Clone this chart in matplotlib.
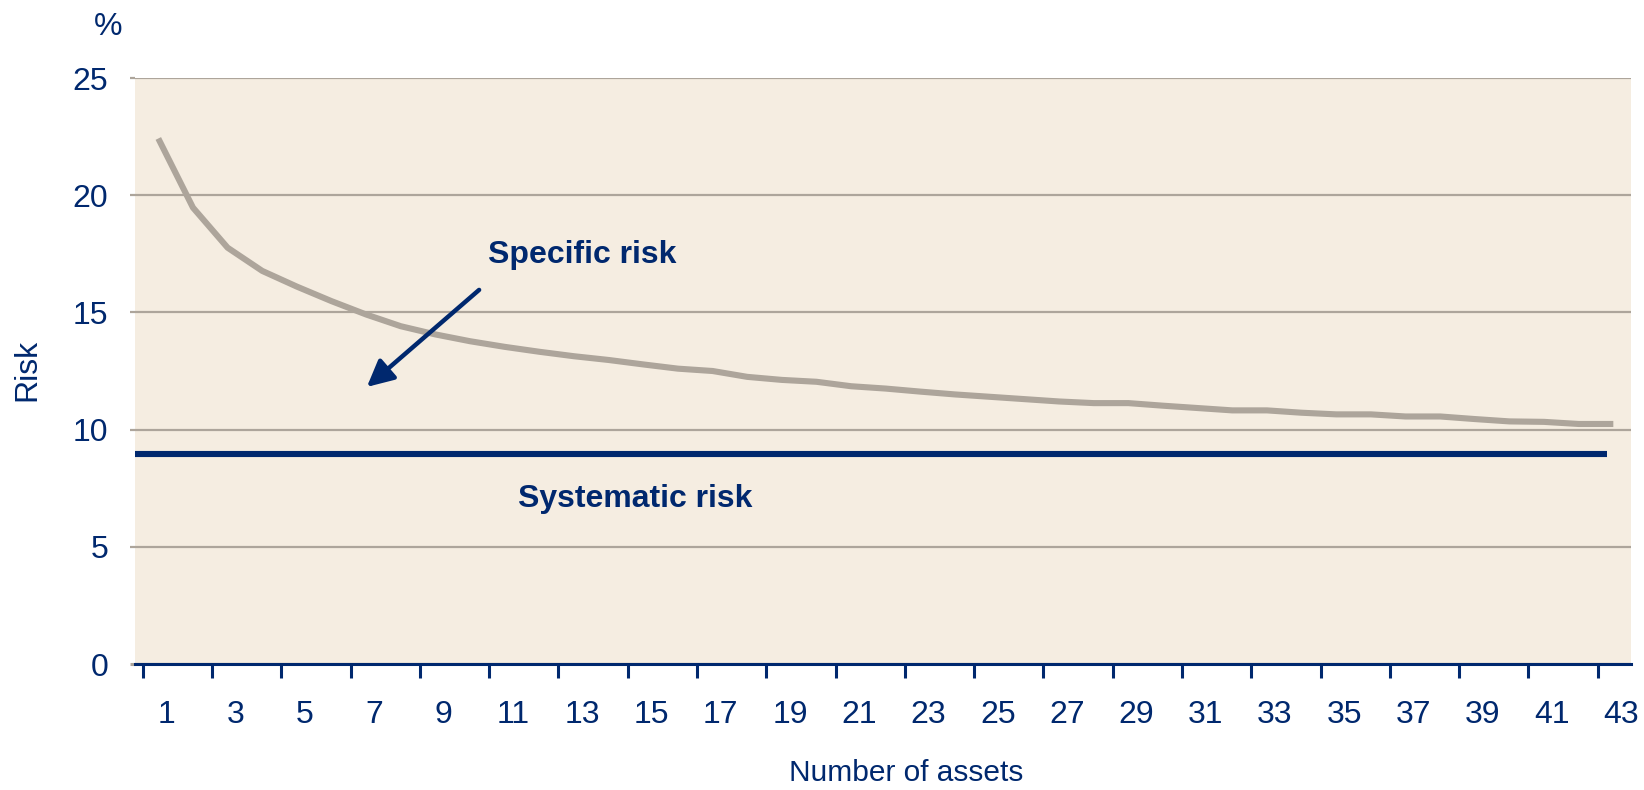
import matplotlib
matplotlib.use("Agg")
import matplotlib.pyplot as plt
import matplotlib.transforms as mtransforms

# risk of a portfolio as assets are added
n_assets = list(range(1, 44))
total_risk = [22.42, 19.47, 17.76, 16.77, 16.1, 15.48, 14.91, 14.41, 14.06, 13.77,
              13.53, 13.32, 13.13, 12.97, 12.78, 12.6, 12.5, 12.25, 12.12, 12.04,
              11.85, 11.75, 11.62, 11.5, 11.4, 11.3, 11.2, 11.13, 11.13, 11.02,
              10.92, 10.82, 10.82, 10.72, 10.65, 10.65, 10.56, 10.56, 10.45, 10.35,
              10.33, 10.24, 10.24]
systematic_risk = 8.96
y_ticks = [0, 5, 10, 15, 20, 25]

navy = "#00286E"
beige = "#F5EDE1"
grey = "#ADA59B"

plt.rcParams["font.family"] = ["Liberation Sans", "DejaVu Sans"]

fig = plt.figure(figsize=(16.44, 7.90), dpi=100)
ax = fig.add_axes([135 / 1644, 1 - 664 / 790, 1496 / 1644, 586 / 790])
ax.set_facecolor(beige)

ax.plot(n_assets, total_risk, color=grey, lw=4.4, solid_capstyle="butt", zorder=3)
ax.hlines(systematic_risk, 0.2, 42.83, color=navy, lw=4.4, zorder=3)

ax.set_xlim(0.327, 43.51)
ax.set_ylim(0, 25)

# y axis
ax.set_yticks(y_ticks)
ax.yaxis.grid(True, color=grey, lw=1.6)
ax.set_axisbelow(True)
ax.tick_params(axis="y", length=3.6, width=1.6, color=grey, pad=15.5,
               labelsize=23, labelcolor=navy)
ax.yaxis.get_major_ticks()[0].tick1line.set_color(navy)
ax.yaxis.get_major_ticks()[0].tick1line.set_markeredgewidth(2.2)

# x axis: labels on odd counts, tick marks just left of them
ax.set_xticks(n_assets[::2])
ax.set_xticks([n - 0.45 for n in n_assets[::2]], minor=True)
ax.tick_params(axis="x", which="major", length=0, pad=26, labelsize=23, labelcolor=navy)
ax.tick_params(axis="x", which="minor", length=10, width=2.2, color=navy)
shift = mtransforms.ScaledTranslation(0.08, 0, fig.dpi_scale_trans)
for lab in ax.get_xticklabels():
    lab.set_transform(lab.get_transform() + shift)

for s in ["top", "right", "left"]:
    ax.spines[s].set_visible(False)
ax.spines["bottom"].set_color(navy)
ax.spines["bottom"].set_linewidth(2.2)

ax.text(10.52, 17.45, "Specific risk", color=navy, fontsize=23, fontweight="bold",
        ha="left", va="center")
ax.text(11.38, 7.04, "Systematic risk", color=navy, fontsize=23, fontweight="bold",
        ha="left", va="center")
ax.annotate("", xy=(7.02, 11.82), xytext=(10.26, 15.96),
            arrowprops=dict(arrowstyle="-|>,head_length=0.8,head_width=0.4",
                            mutation_scale=20, lw=3.2, color=navy, shrinkA=0, shrinkB=0))

fig.text(122 / 1644, 1 - 27 / 790, "%", color=navy, fontsize=23, ha="right", va="center")
fig.text(27 / 1644, 1 - 370 / 790, "Risk", color=navy, fontsize=23, rotation=90,
         ha="center", va="center")
fig.text(906 / 1644, 1 - 773 / 790, "Number of assets", color=navy, fontsize=21.5,
         ha="center", va="center")

fig.savefig("out.png", dpi=100)
